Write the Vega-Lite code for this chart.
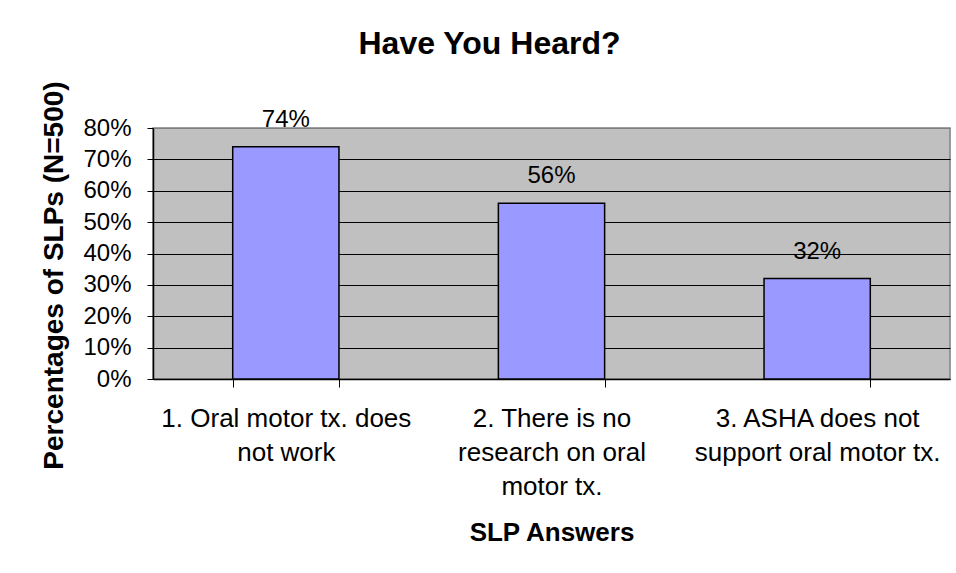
{
  "$schema": "https://vega.github.io/schema/vega-lite/v6.json",
  "autosize": {"type": "none"},
  "width": 797,
  "height": 251,
  "padding": {"left": 153, "top": 128, "right": 6, "bottom": 194},
  "background": "white",
  "title": {
    "text": "Have You Heard?",
    "font": "Liberation Sans",
    "fontSize": 32,
    "fontWeight": "bold",
    "color": "black",
    "frame": "group",
    "anchor": "middle",
    "dx": -62,
    "baseline": "alphabetic",
    "offset": -5
  },
  "config": {
    "font": "Liberation Sans",
    "view": {"fill": "#C0C0C0", "stroke": "#808080", "strokeWidth": 1.5}
  },
  "data": {
    "values": [
      {"answer": "1. Oral motor tx. does|not work", "pct": 0.74},
      {"answer": "2.  There is no|research on oral|motor tx.", "pct": 0.56},
      {"answer": "3.  ASHA does not|support oral motor tx.", "pct": 0.32}
    ]
  },
  "encoding": {
    "x": {
      "field": "answer",
      "type": "nominal",
      "sort": null,
      "scale": {"paddingInner": 0.6, "paddingOuter": 0.3},
      "axis": {
        "title": "SLP Answers",
        "titleFont": "Liberation Sans",
        "titleFontSize": 26,
        "titleFontWeight": "bold",
        "titleColor": "black",
        "titleY": 153,
        "titleBaseline": "middle",
        "labelExpr": "split(datum.label, '|')",
        "labelAngle": 0,
        "labelFont": "Liberation Sans",
        "labelFontSize": 26,
        "labelColor": "black",
        "labelLineHeight": 34,
        "labelPadding": 18,
        "labelBaseline": "top",
        "labelLimit": 400,
        "tickBand": "extent",
        "tickSize": 8,
        "tickColor": "black",
        "domainColor": "black",
        "domainWidth": 1.5
      }
    },
    "y": {
      "field": "pct",
      "type": "quantitative",
      "scale": {"domain": [0, 0.8]},
      "axis": {
        "title": "Percentages of SLPs (N=500)",
        "titleFont": "Liberation Sans",
        "titleFontSize": 28,
        "titleFontWeight": "bold",
        "titleColor": "black",
        "titleX": -99,
        "titleY": 147,
        "titleAngle": -90,
        "titleBaseline": "middle",
        "titleAlign": "center",
        "values": [0, 0.1, 0.2, 0.3, 0.4, 0.5, 0.6, 0.7, 0.8],
        "format": ".0%",
        "labelFont": "Liberation Sans",
        "labelFontSize": 24,
        "labelColor": "black",
        "labelPadding": 16,
        "labelOverlap": false,
        "tickSize": 6,
        "tickColor": "black",
        "domainColor": "black",
        "domainWidth": 1.5,
        "grid": true,
        "gridColor": {"condition": {"test": "datum.value >= 0.8", "value": "#808080"}, "value": "black"},
        "gridWidth": 1.2
      }
    }
  },
  "layer": [
    {
      "mark": {"type": "bar", "fill": "#9999FF", "stroke": "black", "strokeWidth": 1.5}
    },
    {
      "mark": {"type": "text", "font": "Liberation Sans", "fontSize": 24, "color": "black", "baseline": "alphabetic", "dy": -20},
      "encoding": {
        "text": {"field": "pct", "type": "quantitative", "format": ".0%"}
      }
    }
  ]
}
